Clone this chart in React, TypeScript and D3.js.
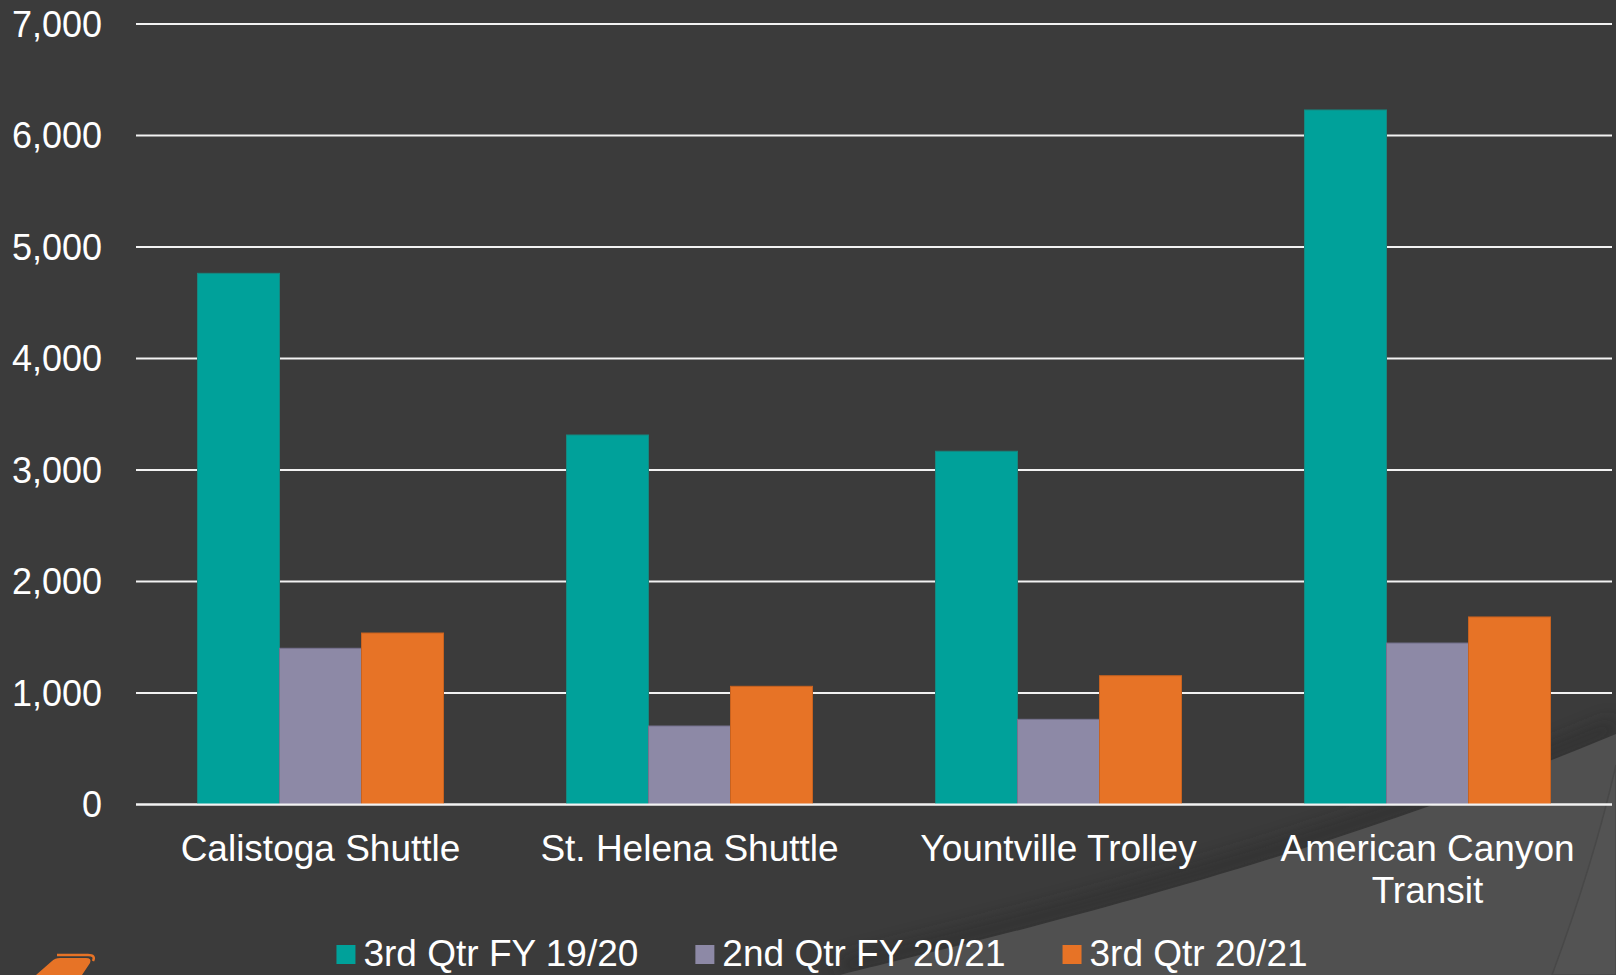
import React, { useEffect, useRef } from 'react';
import * as d3 from 'd3';

// ridership by service
const categories = ['Calistoga Shuttle', 'St. Helena Shuttle', 'Yountville Trolley', 'American Canyon Transit'];
const categoryLines = [['Calistoga Shuttle'], ['St. Helena Shuttle'], ['Yountville Trolley'], ['American Canyon', 'Transit']];
const seriesNames = ['3rd Qtr FY 19/20', '2nd Qtr FY 20/21', '3rd Qtr 20/21'];
const q3FY1920 = [4764, 3314, 3168, 6229];
const q2FY2021 = [1401, 704, 764, 1448];
const q3FY2021 = [1538, 1060, 1155, 1682];
const yTicks = [0, 1000, 2000, 3000, 4000, 5000, 6000, 7000];
const colors = ['#00a19a', '#8d89a6', '#e77326'];
const strokes = ['#16877f', '#76728f', '#c8621f'];

const App = () => {
  const ref = useRef<SVGSVGElement | null>(null);

  useEffect(() => {
    document.body.style.margin = '0';
    document.body.style.overflow = 'hidden';

    const W = 1616, H = 975;
    const svg = d3.select(ref.current);
    svg.selectAll('*').remove();
    const font = '"Liberation Sans", Arial, sans-serif';

    // background
    svg.append('rect').attr('width', W).attr('height', H).attr('fill', '#3b3b3b');

    const defs = svg.append('defs');
    defs.append('filter').attr('id', 'blur')
      .append('feGaussianBlur').attr('stdDeviation', 9);

    const curve = 'M 840 975 C 1000 935, 1300 866, 1616 734';
    // soft shadow above the swoosh
    svg.append('path')
      .attr('d', curve)
      .attr('fill', 'none')
      .attr('stroke', '#252525')
      .attr('stroke-width', 14)
      .attr('opacity', 0.55)
      .attr('transform', 'translate(0,-8)')
      .attr('filter', 'url(#blur)');
    svg.append('path')
      .attr('d', curve + ' L 1616 975 Z')
      .attr('fill', '#505050');
    // second faint swoosh on the right
    svg.append('path')
      .attr('d', 'M 1616 765 C 1600 835, 1578 905, 1552 975 L 1616 975 Z')
      .attr('fill', '#535353')
      .attr('stroke', '#484848')
      .attr('stroke-width', 1.5);

    // logo fragment bottom-left
    svg.append('path')
      .attr('d', 'M 36 975 L 52 961 Q 55 958 60 958 L 86 958 Q 92 958 90 963 L 82 975 Z')
      .attr('fill', '#e77326');
    svg.append('path')
      .attr('d', 'M 57 955 L 88 955 Q 96 955 93 961')
      .attr('fill', 'none')
      .attr('stroke', '#e77326')
      .attr('stroke-width', 2.5);

    const left = 136, right = 1612, top = 24, bottom = 804.5;

    const x = d3.scaleBand<string>().domain(categories).range([left, right]).paddingInner(0).paddingOuter(0);
    const xs = d3.scaleBand<string>().domain(seriesNames).range([0, x.bandwidth()]).paddingInner(0).paddingOuter(0.75);
    const y = d3.scaleLinear().domain([0, 7000]).range([bottom, top]);

    // gridlines
    svg.append('g').selectAll('line').data(yTicks).join('line')
      .attr('x1', left).attr('x2', right)
      .attr('y1', d => y(d)).attr('y2', d => y(d))
      .attr('stroke', '#f2f2f2').attr('stroke-width', 2);

    // y labels
    svg.append('g').selectAll('text').data(yTicks).join('text')
      .attr('x', 102).attr('y', d => y(d))
      .attr('dy', '0.35em')
      .attr('text-anchor', 'end')
      .attr('font-family', font).attr('font-size', 36)
      .attr('fill', '#ffffff')
      .text(d => d3.format(',')(d));

    // bars
    const series = [q3FY1920, q2FY2021, q3FY2021];
    series.forEach((vals, si) => {
      svg.append('g').selectAll('rect').data(vals).join('rect')
        .attr('x', (d, i) => (x(categories[i]) as number) + (xs(seriesNames[si]) as number))
        .attr('y', d => y(d))
        .attr('width', xs.bandwidth())
        .attr('height', d => y(0) - y(d))
        .attr('fill', colors[si])
        .attr('stroke', strokes[si])
        .attr('stroke-width', 1);
    });

    // baseline over bars
    svg.append('line')
      .attr('x1', left).attr('x2', right)
      .attr('y1', y(0)).attr('y2', y(0))
      .attr('stroke', '#f2f2f2').attr('stroke-width', 2);

    // category labels
    const cat = svg.append('g');
    categories.forEach((c, i) => {
      const t = cat.append('text')
        .attr('x', (x(c) as number) + x.bandwidth() / 2)
        .attr('y', 861)
        .attr('text-anchor', 'middle')
        .attr('font-family', font).attr('font-size', 37)
        .attr('fill', '#ffffff');
      categoryLines[i].forEach((line, li) => {
        t.append('tspan')
          .attr('x', (x(c) as number) + x.bandwidth() / 2)
          .attr('dy', li === 0 ? 0 : 42)
          .text(line);
      });
    });

    // legend
    const lg = svg.append('g');
    const items = seriesNames.map((name, i) => {
      const g = lg.append('g');
      g.append('rect').attr('x', 0).attr('y', -21).attr('width', 19).attr('height', 19).attr('fill', colors[i]);
      const t = g.append('text')
        .attr('x', 27).attr('y', 0)
        .attr('font-family', font).attr('font-size', 37)
        .attr('fill', '#ffffff')
        .text(name);
      const w = 27 + (t.node() as SVGTextElement).getComputedTextLength();
      return { g, w };
    });
    const gap = 57;
    const total = d3.sum(items, d => d.w) + gap * (items.length - 1);
    let cx = 822 - total / 2;
    items.forEach(it => {
      it.g.attr('transform', `translate(${cx},966)`);
      cx += it.w + gap;
    });
  }, []);

  return (
    <div style={{ position: 'fixed', left: 0, top: 0, width: 1616, height: 975 }}>
      <svg ref={ref} width={1616} height={975} style={{ display: 'block' }} />
    </div>
  );
};

export default App;
